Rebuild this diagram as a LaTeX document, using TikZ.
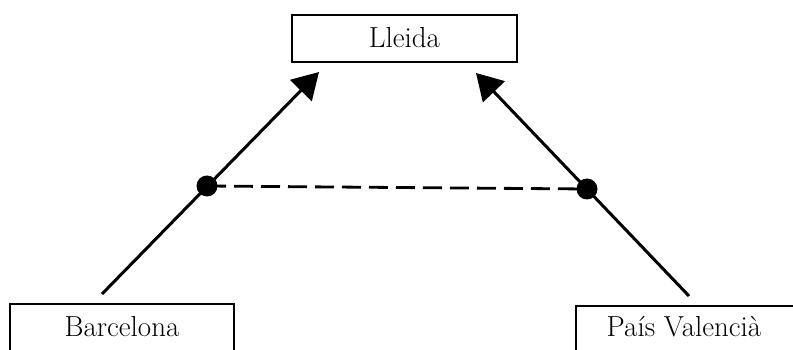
\documentclass[tikz,border=0pt]{standalone}
\usetikzlibrary{arrows.meta}
\begin{document}
\begin{tikzpicture}[x=1pt,y=-1pt,
  place/.style={draw,line width=2pt,inner sep=0pt,font=\fontsize{29}{34}\selectfont},
  link/.style={line width=3pt,-{Triangle[length=26pt,width=30pt]}},
  dot/.style={circle,fill,inner sep=0pt,minimum size=21pt},
  tie/.style={line width=2.8pt,dash pattern=on 19pt off 8pt}]
\useasboundingbox (0,0) rectangle (793,350);
\clip (0,0) rectangle (793,350);
\fill[white] (0,0) rectangle (793,350);
% places
\node[place,minimum width=225pt,minimum height=47pt,text height=22pt,text depth=4pt] (lleida) at (404.5,38.5) {Lleida};
\node[place,anchor=north west,minimum width=224pt,text height=24pt,text depth=40pt,inner ysep=8pt] (barc) at (9,303) {Barcelona};
\node[place,anchor=north west,minimum width=232pt,text height=22pt,text depth=40pt,inner ysep=8pt] (pv) at (575,305) {Pa\'{\i}s Valenci\`a\kern16pt};
% connector ends
\coordinate (bstart) at (102,294);
\coordinate (btip) at (319,72);
\coordinate (vstart) at (689,296);
\coordinate (vtip) at (476,73);
\draw[link] (bstart) -- (btip);
\draw[link] (vstart) -- (vtip);
\node[dot] (ldot) at (207,186) {};
\node[dot] (rdot) at (587,189) {};
\draw[tie] (ldot.center) -- (rdot.center);
\end{tikzpicture}
\end{document}
